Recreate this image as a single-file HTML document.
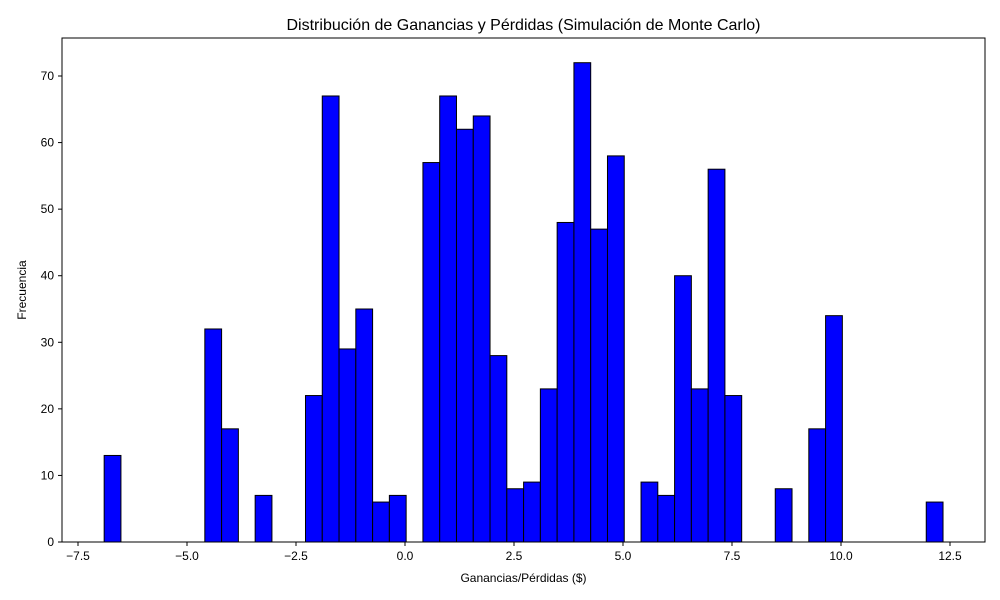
<!DOCTYPE html>
<html><head><meta charset="utf-8"><style>
body{margin:0;background:#fff;}
svg{display:block;font-family:"Liberation Sans",sans-serif;}
</style></head><body>
<svg id="c" width="1000" height="600"></svg>
<script>
const counts=[13,0,0,0,0,0,32,17,0,7,0,0,22,67,29,35,6,7,0,57,67,62,64,28,8,9,23,48,72,47,58,0,9,7,40,23,56,22,0,0,8,0,17,34,0,0,0,0,0,6];
const binStart=-6.9, binEnd=12.34;
const xTicks=[-7.5,-5.0,-2.5,0.0,2.5,5.0,7.5,10.0,12.5];
const yTicks=[0,10,20,30,40,50,60,70];
const L=62,R=985,T=38,B=542;
const x=v=>405+v*43.6;
const y=v=>542-v*6.657;
const svg=document.getElementById('c');
const NS='http://www.w3.org/2000/svg';
function el(t,a,txt){const e=document.createElementNS(NS,t);for(const k in a)e.setAttribute(k,a[k]);if(txt!==undefined)e.textContent=txt;svg.appendChild(e);return e;}
const w=(binEnd-binStart)/counts.length;
counts.forEach((c,i)=>{
  const x0=x(binStart+i*w),x1=x(binStart+(i+1)*w);
  const r=el('rect',{x:x0,y:y(c),width:x1-x0,height:y(0)-y(c),fill:'#0000ff',stroke:'#000','stroke-width':1});
  
  
});
const fr=el('rect',{x:L,y:T,width:R-L,height:B-T,fill:'none',stroke:'#000','stroke-width':1});


xTicks.forEach(v=>{
  el('line',{x1:x(v),x2:x(v),y1:B,y2:B+4,stroke:'#000'});
  const t=el('text',{x:x(v),y:B+18,'font-size':12,'text-anchor':'middle'},v.toFixed(1).replace('-','−'));
  
  
});
yTicks.forEach(v=>{
  el('line',{x1:L-4,x2:L,y1:y(v),y2:y(v),stroke:'#000'});
  const t=el('text',{x:L-8,y:y(v)+4,'font-size':12,'text-anchor':'end'},v);
  
  
});
const tt=el('text',{x:523.5,y:30,'font-size':16,'text-anchor':'middle'},'Distribución de Ganancias y Pérdidas (Simulación de Monte Carlo)');


const xl=el('text',{x:523.5,y:582,'font-size':12,'text-anchor':'middle'},'Ganancias/Pérdidas ($)');


const yl=el('text',{x:26,y:290,'font-size':12,'text-anchor':'middle',transform:'rotate(-90 26 290)'},'Frecuencia');


</script>
</body></html>
